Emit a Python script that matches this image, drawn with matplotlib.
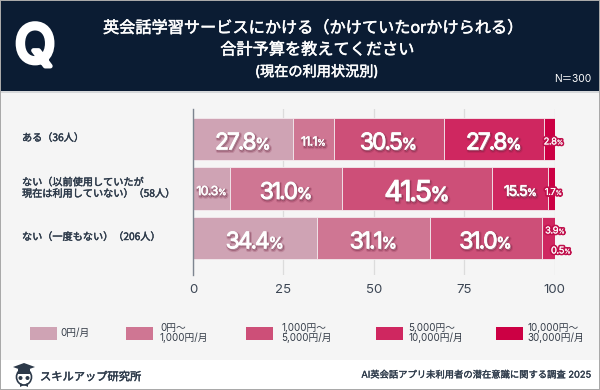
import matplotlib
matplotlib.use("Agg")
import numpy as np
import matplotlib.pyplot as plt
import matplotlib.patheffects as pe
from matplotlib.patches import Rectangle, Polygon, Ellipse
from matplotlib.path import Path
from matplotlib.transforms import offset_copy

JP = ['Noto Sans CJK JP', 'DejaVu Sans']
NUM = ['Inter', 'Noto Sans CJK JP', 'DejaVu Sans']
plt.rcParams['font.family'] = NUM

categories = ['ある（36人）', 'ない（以前使用していたが\n現在は利用していない）（58人）', 'ない（一度もない）（206人）']
series_names = ['0円/月', '0円～\n1,000円/月', '1,000円～\n5,000円/月', '5,000円～\n10,000円/月', '10,000円～\n30,000円/月']
zero_yen = [27.8, 10.3, 34.4]
under_1k = [11.1, 31.0, 31.1]
under_5k = [30.5, 41.5, 31.0]
under_10k = [27.8, 15.5, 3.9]
under_30k = [2.8, 1.7, 0.5]
series = [zero_yen, under_1k, under_5k, under_10k, under_30k]
colors = ['#cfa3b4', '#cf7693', '#cd4f78', '#cf2760', '#cc0044']
xticks = [0, 25, 50, 75, 100]
title_lines = ['英会話学習サービスにかける（かけていたorかけられる）', '合計予算を教えてください', '(現在の利用状況別)']

W, H = 600, 390
fig = plt.figure(figsize=(W / 100, H / 100), dpi=100, facecolor='#f5f5f5')
NAVY = '#0b1c33'
INK = '#2d3a4a'


def fx(x):
    return x / W


def fy(y):
    return 1 - y / H


def frect(x0, y0, x1, y1, color, z=0):
    fig.add_artist(Rectangle((fx(x0), fy(y1)), (x1 - x0) / W, (y1 - y0) / H,
                             transform=fig.transFigure, fc=color, ec='none', zorder=z))


class TightLabel(pe.AbstractPathEffect):
    """Draws one text string with tighter letter spacing and a smaller last glyph (the % sign)."""

    def __init__(self, track, last_scale, effects):
        super().__init__()
        self.track = track  # in text-path units (100 = 1 em)
        self.last_scale = last_scale
        self.effects = effects

    def _reshape(self, tpath):
        verts = np.array(tpath.vertices, dtype=float)
        codes = np.array(tpath.codes)
        starts = list(np.flatnonzero(codes == Path.MOVETO)) + [len(codes)]
        contours = []
        for a, b in zip(starts[:-1], starts[1:]):
            real = codes[a:b] != Path.CLOSEPOLY
            contours.append([verts[a:b][real][:, 0].min(), verts[a:b][real][:, 0].max(), a, b])
        contours.sort()
        groups = []
        for c in contours:
            if groups and c[0] < groups[-1]['hi']:
                groups[-1]['hi'] = max(groups[-1]['hi'], c[1])
                groups[-1]['spans'].append((c[2], c[3]))
            else:
                groups.append({'lo': c[0], 'hi': c[1], 'spans': [(c[2], c[3])]})
        old_mid = (groups[0]['lo'] + groups[-1]['hi']) / 2
        last_lo = groups[-1]['lo']
        for i, g in enumerate(groups):
            for a, b in g['spans']:
                if i == len(groups) - 1:
                    verts[a:b, 0] = last_lo + (verts[a:b, 0] - last_lo) * self.last_scale
                    verts[a:b, 1] *= self.last_scale
                verts[a:b, 0] += i * self.track
        new_lo = groups[0]['lo']
        new_hi = last_lo + (groups[-1]['hi'] - last_lo) * self.last_scale + (len(groups) - 1) * self.track
        verts[:, 0] += old_mid - (new_lo + new_hi) / 2
        return Path(verts, codes)

    def draw_path(self, renderer, gc, tpath, affine, rgbFace=None):
        squeezed = self._reshape(tpath)
        for effect in self.effects:
            effect.draw_path(renderer, gc, squeezed, affine, rgbFace)


# panels
frect(0, 360, W, H, 'white', 0)
frect(0, 91, W, 93, '#d6d8da', 0)
frect(0, 1, W, 91, NAVY, 0)
frect(0, 0, W, 1, '#a9a9a9', 5)
frect(0, H - 1, W, H, '#a9a9a9', 5)
frect(0, 0, 1, H, '#a9a9a9', 5)
frect(W - 1, 0, W, H, '#a9a9a9', 5)

# header text
thick = [pe.withStroke(linewidth=0.35, foreground='white')]
fig.text(fx(35), fy(49), 'Q', color='white', fontsize=38, family=['Inter', 'DejaVu Sans'],
         ha='center', va='center', path_effects=[pe.withStroke(linewidth=3.4, foreground='white')])
fig.text(fx(312.5), fy(28), title_lines[0], color='white', fontsize=11.65, family=NUM, ha='center', va='center', path_effects=thick)
fig.text(fx(317), fy(50), title_lines[1], color='white', fontsize=11.65, family=NUM, ha='center', va='center', path_effects=thick)
fig.text(fx(316.5), fy(72), title_lines[2], color='white', fontsize=10.2, family=NUM, ha='center', va='center', path_effects=thick)
fig.text(fx(591), fy(79), 'N＝300', color='white', fontsize=7.4, family=NUM, ha='right', va='center')

# chart
X0, X100, YT, YB = 193, 554.5, 109, 275
ax = fig.add_axes([fx(X0), fy(YB), (X100 - X0) / W, (YB - YT) / H])
ax.patch.set_alpha(0)
ax.set_xlim(0, 100)
SP = 49.5
ax.set_ylim((YB - 139) / SP, (YT - 139) / SP)
for s in ['top', 'right', 'bottom']:
    ax.spines[s].set_visible(False)
ax.spines['left'].set_color('#7d8590')
ax.spines['left'].set_linewidth(1.0)
ax.set_xticks(xticks)
ax.set_xticklabels([str(t) for t in xticks], fontsize=9.5, color='#3c4654')
ax.tick_params(axis='x', length=0, pad=6.5)
ax.set_yticks(range(3))
ax.set_yticklabels([])
ax.tick_params(axis='y', length=0)
ax.grid(axis='x', color='#dcdcdc', lw=0.9)
ax.set_axisbelow(True)

left = [0, 0, 0]
ypos = [0, 1, 2]
for vals, col in zip(series, colors):
    ax.barh(ypos, vals, left=left, height=0.85, color=col, edgecolor='#f3eaee', linewidth=0.6, zorder=2)
    left = [a + b for a, b in zip(left, vals)]

# category labels
ink_thick = [pe.withStroke(linewidth=0.3, foreground=INK)]
cat_y = [139, 189, 238]
for c, y in zip(categories, cat_y):
    fig.text(fx(22), fy(y - 1), c, fontsize=7.3, color=INK, family=JP,
             ha='left', va='center', linespacing=1.15, path_effects=ink_thick)


def size_for(v):
    if v >= 40:
        return 20.5
    if v >= 25:
        return 16.5
    if v >= 14:
        return 10.5
    if v >= 10:
        return 9.0
    return 6.8


small_nudge = {(2, 3): (6, 8), (2, 4): (4, -12), (0, 4): (4, -2), (1, 4): (2, -3)}
for r in range(3):
    cum = 0
    for k, vals in enumerate(series):
        v = vals[r]
        center = cum + v / 2
        cum += v
        sz = size_for(v)
        em = sz * 100 / 72
        dx, dy = small_nudge.get((r, k), (0, -2))
        fill_lw = 0.1 + 0.5 * sz / 16.5
        if v < 10:
            under = [pe.Stroke(linewidth=2.6, foreground='#c0104c')]
            fill_lw = 0.1
            track = -5
        else:
            under = [pe.Stroke(linewidth=2.8, foreground='#7a2040', alpha=0.20, offset=(0.8, -1.2)),
                     pe.Stroke(linewidth=1.3, foreground='#5a1530', alpha=0.35, offset=(0.7, -1.0))]
            track = -9 if sz > 10 else -6
        tr = offset_copy(ax.transData, fig=fig, x=dx, y=-0.364 * em + dy, units='dots')
        effects = under + [pe.Stroke(linewidth=fill_lw, foreground='white'), pe.Normal()]
        ax.text(center, r, f'{v:.1f}%', fontsize=sz, color='white', ha='center', va='baseline', transform=tr,
                zorder=6, path_effects=[TightLabel(track, 0.68, effects)])

# legend
swatch_x = [30, 126, 246, 376, 496]
text_x = [60.5, 160, 281, 408, 527]
for name, col, sx, tx in zip(series_names, colors, swatch_x, text_x):
    frect(sx, 327, sx + 27, 339.5, col, 2)
    fig.text(fx(tx), fy(333), name, fontsize=7, color='#333b47', family=NUM, ha='left', va='center', linespacing=1.05)

# footer
fig.text(fx(40), fy(377), 'スキルアップ研究所', fontsize=8.1, color=INK, family=JP, ha='left', va='center', path_effects=ink_thick)
fig.text(fx(590), fy(375), 'AI英会話アプリ未利用者の潜在意識に関する調査 2025', fontsize=6.7, color=INK, family=NUM,
         ha='right', va='center', path_effects=[pe.withStroke(linewidth=0.2, foreground=INK)])

# logo mark
fig.add_artist(Polygon([(fx(13), fy(367)), (fx(24), fy(363)), (fx(35), fy(367)), (fx(24), fy(371))],
                       transform=fig.transFigure, fc=INK, ec='none', zorder=3))
fig.add_artist(Rectangle((fx(18), fy(374)), 12 / W, 5 / H, transform=fig.transFigure, fc=INK, ec='none', zorder=3))
fig.add_artist(Ellipse((fx(24), fy(377)), 15 / W, 16 / H, transform=fig.transFigure,
                       fc='white', ec=INK, lw=1.2, zorder=2))
for ex in (20.5, 27.5):
    fig.add_artist(Ellipse((fx(ex), fy(378)), 4 / W, 4 / H, transform=fig.transFigure,
                           fc=INK, ec='none', zorder=3))
fig.add_artist(Polygon([(fx(20), fy(383)), (fx(24), fy(385)), (fx(28), fy(383)), (fx(28), fy(387)), (fx(24), fy(385)), (fx(20), fy(387))],
                       transform=fig.transFigure, fc=INK, ec='none', zorder=3))

fig.savefig('out.png', dpi=100, facecolor=fig.get_facecolor())
